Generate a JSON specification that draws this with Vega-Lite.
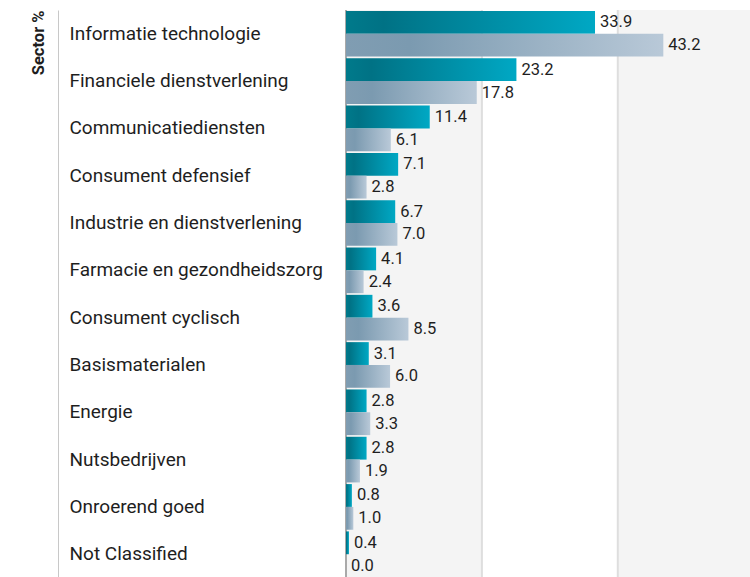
{
  "$schema": "https://vega.github.io/schema/vega-lite/v6.json",
  "width": 404,
  "height": 568,
  "padding": {"left": 30, "top": 9, "right": 0, "bottom": 0},
  "background": "white",
  "config": {"view": {"stroke": null}},
  "datasets": {
    "sectors": [
      {"sector": "Informatie technologie", "series": "Fonds", "value": 33.9},
      {"sector": "Informatie technologie", "series": "Benchmark", "value": 43.2},
      {"sector": "Financiele dienstverlening", "series": "Fonds", "value": 23.2},
      {"sector": "Financiele dienstverlening", "series": "Benchmark", "value": 17.8},
      {"sector": "Communicatiediensten", "series": "Fonds", "value": 11.4},
      {"sector": "Communicatiediensten", "series": "Benchmark", "value": 6.1},
      {"sector": "Consument defensief", "series": "Fonds", "value": 7.1},
      {"sector": "Consument defensief", "series": "Benchmark", "value": 2.8},
      {"sector": "Industrie en dienstverlening", "series": "Fonds", "value": 6.7},
      {"sector": "Industrie en dienstverlening", "series": "Benchmark", "value": 7.0},
      {"sector": "Farmacie en gezondheidszorg", "series": "Fonds", "value": 4.1},
      {"sector": "Farmacie en gezondheidszorg", "series": "Benchmark", "value": 2.4},
      {"sector": "Consument cyclisch", "series": "Fonds", "value": 3.6},
      {"sector": "Consument cyclisch", "series": "Benchmark", "value": 8.5},
      {"sector": "Basismaterialen", "series": "Fonds", "value": 3.1},
      {"sector": "Basismaterialen", "series": "Benchmark", "value": 6.0},
      {"sector": "Energie", "series": "Fonds", "value": 2.8},
      {"sector": "Energie", "series": "Benchmark", "value": 3.3},
      {"sector": "Nutsbedrijven", "series": "Fonds", "value": 2.8},
      {"sector": "Nutsbedrijven", "series": "Benchmark", "value": 1.9},
      {"sector": "Onroerend goed", "series": "Fonds", "value": 0.8},
      {"sector": "Onroerend goed", "series": "Benchmark", "value": 1.0},
      {"sector": "Not Classified", "series": "Fonds", "value": 0.4},
      {"sector": "Not Classified", "series": "Benchmark", "value": 0.0}
    ],
    "bands": [
      {"start": 0, "end": 18.5, "shade": "gray"},
      {"start": 18.5, "end": 37, "shade": "white"},
      {"start": 37, "end": 55, "shade": "gray"}
    ],
    "grid": [
      {"v": 0},
      {"v": 18.5},
      {"v": 37}
    ]
  },
  "layer": [
    {
      "data": {"name": "bands"},
      "mark": {"type": "rect"},
      "encoding": {
        "x": {"field": "start", "type": "quantitative", "scale": {"domain": [0, 55], "nice": false, "zero": true}, "axis": null},
        "x2": {"field": "end"},
        "fill": {"field": "shade", "type": "nominal", "scale": {"domain": ["gray", "white"], "range": ["#f4f4f4", "#ffffff"]}, "legend": null}
      }
    },
    {
      "data": {"name": "grid"},
      "mark": {"type": "rule", "strokeWidth": 2},
      "encoding": {
        "x": {"field": "v", "type": "quantitative"},
        "color": {"condition": {"test": "datum.v === 0", "value": "#a9a9a9"}, "value": "#dedede"}
      }
    },
    {
      "data": {"name": "sectors"},
      "transform": [{"filter": "datum.series === 'Fonds'"}],
      "mark": {
        "type": "bar",
        "color": {"gradient": "linear", "x1": 0, "y1": 0, "x2": 1, "y2": 0, "stops": [
          {"offset": 0, "color": "#007a8b"},
          {"offset": 0.15, "color": "#007285"},
          {"offset": 1, "color": "#00a8c4"}
        ]}
      },
      "encoding": {
        "y": {"field": "sector", "type": "nominal", "sort": null,
          "scale": {"paddingInner": 0.035, "paddingOuter": 0.02},
          "axis": {
            "title": "Sector %", "offset": 288, "domain": true, "domainColor": "#c8c8c8", "domainWidth": 1,
            "ticks": false, "tickSize": 0, "grid": false,
            "labelAlign": "left", "labelPadding": -11, "labelLimit": 0,
            "labelFont": "Roboto", "labelFontSize": 19, "labelColor": "#1e1e1e",
            "titleFont": "Roboto", "titleFontWeight": "bold", "titleFontSize": 16.5, "titleColor": "#1e1e1e",
            "titleAnchor": "start", "titleAlign": "right", "titlePadding": 12
          }},
        "yOffset": {"field": "series", "type": "nominal", "scale": {"domain": ["Fonds", "Benchmark"], "paddingInner": 0, "paddingOuter": 0}},
        "x": {"field": "value", "type": "quantitative"}
      }
    },
    {
      "data": {"name": "sectors"},
      "transform": [{"filter": "datum.series === 'Benchmark'"}],
      "mark": {
        "type": "bar",
        "color": {"gradient": "linear", "x1": 0, "y1": 0, "x2": 1, "y2": 0, "stops": [
          {"offset": 0, "color": "#809db2"},
          {"offset": 0.2, "color": "#7b9ab0"},
          {"offset": 1, "color": "#b9c9d8"}
        ]}
      },
      "encoding": {
        "y": {"field": "sector", "type": "nominal", "sort": null},
        "yOffset": {"field": "series", "type": "nominal"},
        "x": {"field": "value", "type": "quantitative"}
      }
    },
    {
      "data": {"name": "sectors"},
      "mark": {"type": "text", "align": "left", "baseline": "middle", "dx": 5, "font": "Roboto", "fontSize": 16.5, "color": "#1e1e1e"},
      "encoding": {
        "y": {"field": "sector", "type": "nominal", "sort": null},
        "yOffset": {"field": "series", "type": "nominal"},
        "x": {"field": "value", "type": "quantitative"},
        "text": {"field": "value", "type": "quantitative", "format": ".1f"}
      }
    }
  ]
}
